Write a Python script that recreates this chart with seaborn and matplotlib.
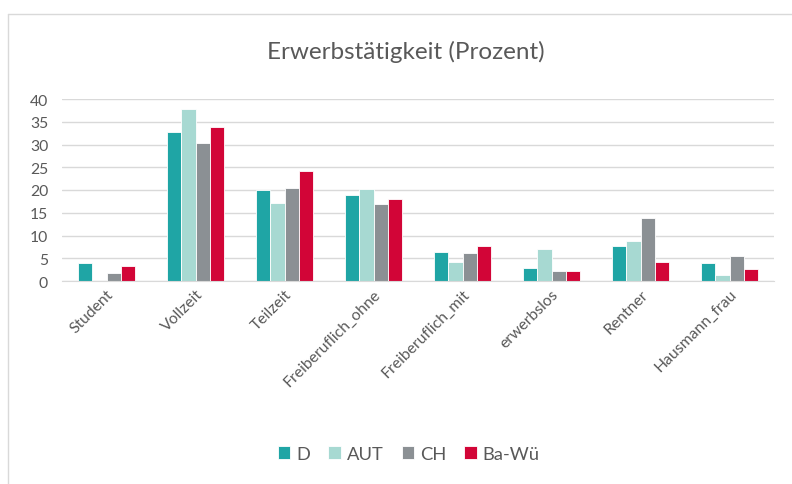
import numpy as np
import pandas as pd
import seaborn as sns
import matplotlib.pyplot as plt
from matplotlib.lines import Line2D

categories = ["Student", "Vollzeit", "Teilzeit", "Freiberuflich_ohne",
              "Freiberuflich_mit", "erwerbslos", "Rentner", "Hausmann_frau"]
D = [3.9, 32.7, 20.0, 18.9, 6.3, 2.8, 7.7, 3.9]
AUT = [0.0, 37.7, 17.2, 20.3, 4.2, 7.1, 8.7, 1.3]
CH = [1.7, 30.4, 20.4, 17.0, 6.1, 2.3, 13.8, 5.6]
BaWue = [3.4, 33.8, 24.2, 18.0, 7.6, 2.1, 4.1, 2.7]
regions = ["D", "AUT", "CH", "Ba-Wü"]
colors = ["#1fa5a5", "#a7d9d2", "#8b9094", "#d20537"]

rows = []
for name, vals in zip(regions, [D, AUT, CH, BaWue]):
    for cat, v in zip(categories, vals):
        rows.append({"Kategorie": cat, "Region": name, "Prozent": v})
df = pd.DataFrame(rows)

sns.set_style("white")
plt.rcParams['font.family'] = ['Lato', 'DejaVu Sans']
txt = "#595959"

fig = plt.figure(figsize=(7.92, 4.85), dpi=100)
ax = fig.add_axes([62 / 792, 1 - 282 / 485, 712 / 792, 182 / 485])

sns.barplot(data=df, x="Kategorie", y="Prozent", hue="Region", order=categories,
            hue_order=regions, palette=colors, saturation=1, width=0.65, gap=0,
            edgecolor="white", linewidth=0.6, ax=ax, legend=True)

ax.set_ylim(0, 40)
ax.set_xlim(-0.5, 7.5)
ax.set_yticks(range(0, 41, 5))
ax.yaxis.grid(True, color="#d9d9d9", linewidth=1)
ax.set_axisbelow(True)
for s in ["top", "right", "left"]:
    ax.spines[s].set_visible(False)
ax.spines["bottom"].set_color("#d9d9d9")
ax.tick_params(axis="both", length=0, colors=txt, labelsize=11.3)
ax.tick_params(axis="y", pad=10)
ax.tick_params(axis="x", pad=4)
plt.setp(ax.get_xticklabels(), rotation=45, ha="right", rotation_mode="anchor")
ax.set_xlabel("")
ax.set_ylabel("")

fig.text(0.512, 1 - 52 / 485, "Erwerbstätigkeit (Prozent)", ha="center", va="center",
         fontsize=17.5, color=txt)

handles, labels = ax.get_legend_handles_labels()
ax.get_legend().remove()
fig.legend(handles, labels, loc="center", bbox_to_anchor=(0.516, 1 - 455 / 485),
           ncol=4, frameon=False, fontsize=13.2, labelcolor=txt,
           handlelength=0.7, handleheight=0.7, handletextpad=0.3, columnspacing=1.0)

# chart frame: only left and top edges fall inside the image
x0, y0 = 8 / 792, 1 - 15 / 485
fig.add_artist(Line2D([x0, x0], [0, y0], transform=fig.transFigure, color="#d9d9d9", lw=1))
fig.add_artist(Line2D([x0, 1], [y0, y0], transform=fig.transFigure, color="#d9d9d9", lw=1))

fig.savefig("out.png", dpi=100)
